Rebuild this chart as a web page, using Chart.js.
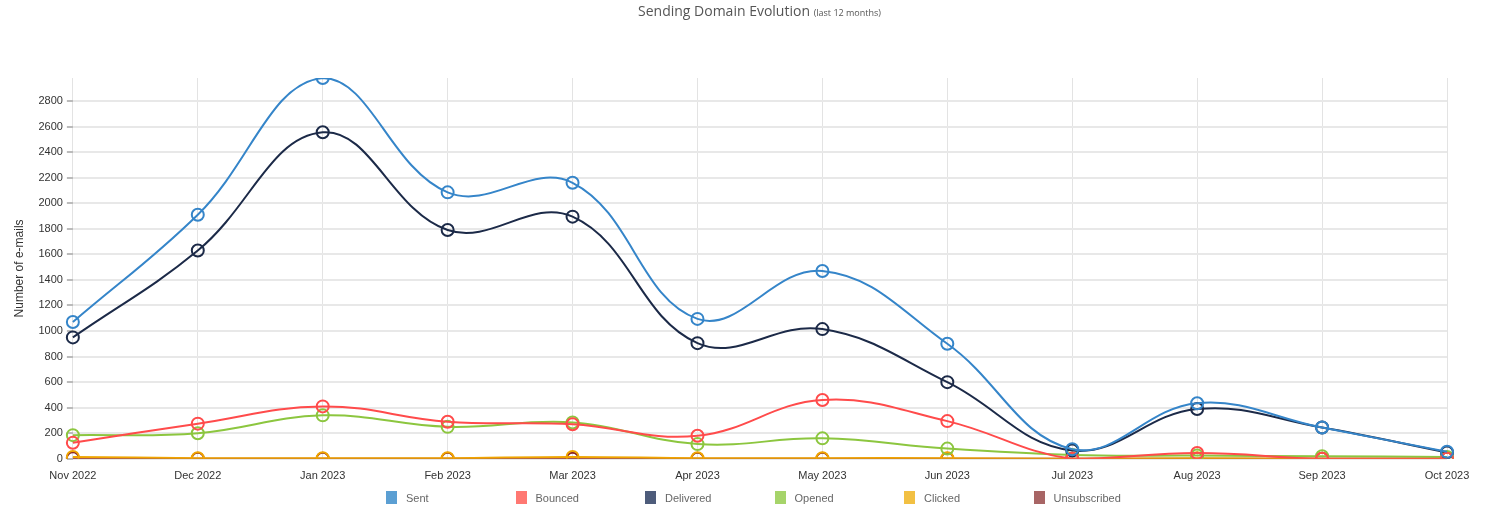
<!DOCTYPE html>
<html>
<head>
<meta charset="utf-8">
<script src="https://cdn.jsdelivr.net/npm/chart.js@4.4.0/dist/chart.umd.min.js"></script>
<style>
  html, body { margin: 0; padding: 0; background: #fff; }
  #wrap { position: relative; width: 1499px; height: 527px; }
  #title {
    position: absolute; top: 1px; left: 0; width: 1499px; text-align: center;
    font-family: "Open Sans", sans-serif; font-size: 14px; color: #555;
    padding-left: 20px; box-sizing: border-box;
  }
  #title small { font-size: 9px; }
  #legend {
    position: absolute; top: 491px; left: 386px; display: flex;
    font-family: Arial, "Liberation Sans", sans-serif; font-size: 11px; color: #666;
  }
  #legend .item { width: 129.5px; display: flex; align-items: center; }
  #legend .box { width: 11px; height: 13px; margin-right: 9px; }
</style>
</head>
<body>
<div id="wrap">
  <div id="title">Sending Domain Evolution <small>(last 12 months)</small></div>
  <canvas id="chart" width="1499" height="527"></canvas>
  <div id="legend"></div>
</div>
<script>
const months = ["Nov 2022", "Dec 2022", "Jan 2023", "Feb 2023", "Mar 2023", "Apr 2023",
  "May 2023", "Jun 2023", "Jul 2023", "Aug 2023", "Sep 2023", "Oct 2023"];

const sent = [1070, 1910, 2980, 2085, 2160, 1095, 1470, 900, 75, 435, 245, 55];
const bounced = [125, 275, 410, 290, 270, 180, 460, 295, 0, 45, 0, 0];
const delivered = [950, 1630, 2555, 1790, 1895, 905, 1015, 600, 65, 390, 245, 50];
const opened = [185, 200, 340, 250, 285, 115, 160, 80, 30, 25, 20, 15];
const clicked = [15, 5, 5, 5, 15, 5, 5, 5, 0, 5, 0, 0];
const unsubscribed = [5, 0, 0, 0, 0, 0, 0, 0, 0, 0, 0, 0];

const yTicks = [0, 200, 400, 600, 800, 1000, 1200, 1400, 1600, 1800, 2000, 2200, 2400, 2600, 2800];

const series = [
  { label: "Sent", data: sent, line: "#3585c9", box: "#5b9fd3" },
  { label: "Bounced", data: bounced, line: "#ff4b4b", box: "#ff7872" },
  { label: "Delivered", data: delivered, line: "#1c2a48", box: "#4e5c7b" },
  { label: "Opened", data: opened, line: "#8cc63f", box: "#a6d46a" },
  { label: "Clicked", data: clicked, line: "#f0a500", box: "#f2c043" },
  { label: "Unsubscribed", data: unsubscribed, line: "#8b2525", box: "#a86565" },
];

const yMax = Math.max(...sent);

// html legend, fixed-width items like the original
const legendEl = document.getElementById("legend");
series.forEach((s) => {
  const item = document.createElement("div");
  item.className = "item";
  item.innerHTML = '<span class="box" style="background:' + s.box + '"></span>' + s.label;
  legendEl.appendChild(item);
});

new Chart(document.getElementById("chart"), {
  type: "line",
  data: {
    labels: months,
    datasets: series.map((s) => ({
      label: s.label,
      data: s.data,
      borderColor: s.line,
      backgroundColor: s.box,
      borderWidth: 2,
      tension: 0.4,
      fill: false,
      pointRadius: 6,
      pointHoverRadius: 6,
      pointBorderWidth: 2,
      pointBackgroundColor: "rgba(255,255,255,0)",
      pointBorderColor: s.line,
    })),
  },
  options: {
    responsive: false,
    animation: false,
    layout: { padding: { top: 78, right: 52, left: 8, bottom: 33 } },
    plugins: {
      title: { display: false },
      tooltip: { enabled: false },
      legend: { display: false },
    },
    scales: {
      x: {
        offset: false,
        grid: { color: "#e3e3e3", drawTicks: false },
        border: { display: false },
        ticks: {
          color: "#333",
          padding: 11,
          maxRotation: 0,
          font: { family: "Arial, 'Liberation Sans'", size: 11 },
        },
      },
      y: {
        min: 0,
        max: yMax,
        title: {
          display: true,
          text: "Number of e-mails",
          color: "#333",
          padding: { top: 4, bottom: 8 },
          font: { family: "Arial, 'Liberation Sans'", size: 12 },
        },
        grid: { color: "#e8e8e8", lineWidth: 2, tickLength: 6, tickColor: "#bbb" },
        border: { display: false },
        ticks: {
          color: "#333",
          padding: 4,
          font: { family: "Arial, 'Liberation Sans'", size: 11 },
          callback: (v) => String(v),
        },
        afterBuildTicks: (axis) => {
          axis.ticks = yTicks.map((v) => ({ value: v }));
        },
      },
    },
  },
});
</script>
</body>
</html>
